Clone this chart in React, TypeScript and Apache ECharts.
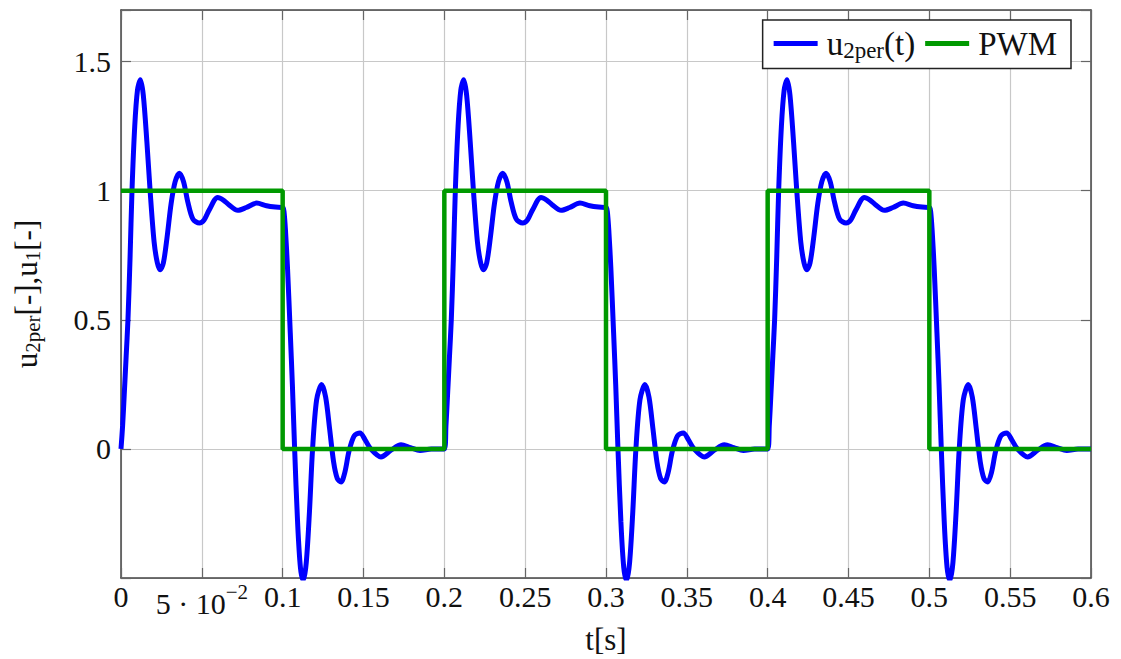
import React, { useEffect, useRef } from "react";
import * as echarts from "echarts";

// One period of the blue response (time offsets in s)
const riseT = [0, 0.001, 0.002, 0.0032, 0.0043, 0.0056, 0.0068, 0.0085, 0.0102, 0.012, 0.0138, 0.016, 0.018, 0.0205, 0.0225, 0.0242, 0.0262, 0.0285, 0.031, 0.0335, 0.0361, 0.0387, 0.0412, 0.0445, 0.0485, 0.0515, 0.0545, 0.0598, 0.0635, 0.0665, 0.0722, 0.0775, 0.0839, 0.09, 0.0955, 0.1];
const riseU = [0, 0.09, 0.21, 0.36, 0.5, 0.74, 1.0, 1.25, 1.39, 1.43, 1.37, 1.19, 1.0, 0.8, 0.72, 0.694, 0.72, 0.82, 0.95, 1.035, 1.068, 1.035, 0.96, 0.89, 0.875, 0.888, 0.925, 0.974, 0.963, 0.947, 0.924, 0.935, 0.952, 0.942, 0.937, 0.935];
const fallT = [0, 0.0008, 0.0018, 0.003, 0.0047, 0.006, 0.0074, 0.0092, 0.011, 0.0128, 0.0146, 0.0166, 0.0185, 0.021, 0.0241, 0.0266, 0.029, 0.0315, 0.0338, 0.0361, 0.0385, 0.041, 0.0442, 0.0478, 0.051, 0.0545, 0.0608, 0.067, 0.0732, 0.079, 0.085, 0.092, 0.1];
const fallU = [0.935, 0.92, 0.84, 0.7, 0.45, 0.25, 0.0, -0.28, -0.46, -0.51, -0.44, -0.24, 0.0, 0.19, 0.249, 0.2, 0.08, -0.05, -0.115, -0.128, -0.09, -0.01, 0.05, 0.062, 0.035, 0.0, -0.031, -0.005, 0.016, 0.005, -0.006, 0.0, 0.0];
const periodStarts = [0, 0.2, 0.4];
const halfPeriod = 0.1;

// PWM signal
const pwmT = [0, 0.1, 0.1, 0.2, 0.2, 0.3, 0.3, 0.4, 0.4, 0.5, 0.5, 0.6];
const pwmU = [1, 1, 0, 0, 1, 1, 0, 0, 1, 1, 0, 0];

const yLabels = [0, 0.5, 1, 1.5];

const FONT = '"Liberation Serif", "Times New Roman", serif';

export default function App() {
  const ref = useRef<HTMLDivElement>(null);
  useEffect(() => {
    if (!ref.current) return;
    const chart = echarts.init(ref.current, undefined, { renderer: "svg" });

    const u2: number[][] = [];
    periodStarts.forEach((p) => {
      riseT.forEach((t, i) => {
        if (t < halfPeriod) u2.push([p + t, riseU[i]]);
      });
      fallT.forEach((t, i) => {
        if (t < halfPeriod) u2.push([p + halfPeriod + t, fallU[i]]);
      });
    });
    u2.push([0.6, fallU[fallU.length - 1]]);
    const pwm = pwmT.map((t, i) => [t, pwmU[i]]);

    const tickStyle = { show: true, inside: true, length: 10, lineStyle: { color: "#666", width: 1.2 } };
    const lineStyle = { show: true, onZero: false, lineStyle: { color: "#444", width: 1.5 } };

    chart.setOption({
      animation: false,
      backgroundColor: "#fff",
      grid: { left: 121, top: 10, right: 30, bottom: 81, containLabel: false, outerBoundsMode: "none" },
      legend: {
        data: ["u2", "PWM"],
        right: 50,
        top: 20,
        orient: "horizontal",
        icon: "rect",
        itemWidth: 44,
        itemHeight: 5,
        itemGap: 10,
        padding: [7, 14, 7, 11],
        borderColor: "#222",
        borderWidth: 1.5,
        borderRadius: 0,
        backgroundColor: "#fff",
        formatter: (name: string) => (name === "u2" ? "{a|u}{b|2per}{a|(t)}" : "{a|PWM}"),
        textStyle: {
          fontFamily: FONT,
          color: "#111",
          padding: [0, 0, 0, 4],
          rich: {
            a: { fontFamily: FONT, fontSize: 33, color: "#111", lineHeight: 36 },
            b: { fontFamily: FONT, fontSize: 23, color: "#111", lineHeight: 26, verticalAlign: "bottom" },
          },
        },
      },
      xAxis: [
        {
          type: "value",
          position: "bottom",
          min: 0,
          max: 0.6,
          interval: 0.05,
          axisLine: lineStyle,
          axisTick: tickStyle,
          splitLine: { show: true, lineStyle: { color: "#c8c8c8", width: 1.2 } },
          axisLabel: {
            margin: 3,
            fontFamily: FONT,
            fontSize: 30,
            color: "#111",
            formatter: (v: number) => {
              if (Math.abs(v - 0.05) < 1e-9) return "{m|5 · 10}{s|−2}";
              return String(Number(v.toFixed(2)));
            },
            rich: {
              m: { fontFamily: FONT, fontSize: 30, color: "#111", lineHeight: 44 },
              s: { fontFamily: FONT, fontSize: 21, color: "#111", lineHeight: 26, verticalAlign: "top" },
            },
          },
          name: "t[s]",
          nameLocation: "middle",
          nameGap: 46,
          nameTextStyle: { fontFamily: FONT, fontSize: 31, color: "#111" },
        },
        {
          type: "value",
          position: "top",
          min: 0,
          max: 0.6,
          interval: 0.05,
          axisLine: lineStyle,
          axisTick: tickStyle,
          axisLabel: { show: false },
          splitLine: { show: false },
        },
      ],
      yAxis: [
        {
          type: "value",
          position: "left",
          min: -0.5,
          max: 1.7,
          interval: 0.5,
          axisLine: lineStyle,
          axisTick: tickStyle,
          splitLine: { show: true, lineStyle: { color: "#c8c8c8", width: 1.2 } },
          axisLabel: {
            margin: 10,
            fontFamily: FONT,
            fontSize: 30,
            color: "#111",
            formatter: (v: number) => {
              const hit = yLabels.find((l) => Math.abs(l - v) < 1e-9);
              return hit === undefined ? "" : String(hit);
            },
          },
          name: "{a|u}{b|2per}{a|[-],u}{b|1}{a|[-]}",
          nameLocation: "middle",
          nameGap: 78,
          nameRotate: 90,
          nameTextStyle: {
            fontFamily: FONT,
            color: "#111",
            rich: {
              a: { fontFamily: FONT, fontSize: 31, color: "#111", lineHeight: 34 },
              b: { fontFamily: FONT, fontSize: 21, color: "#111", lineHeight: 24, verticalAlign: "bottom" },
            },
          },
        },
        {
          type: "value",
          position: "right",
          min: -0.5,
          max: 1.7,
          interval: 0.5,
          axisLine: lineStyle,
          axisTick: tickStyle,
          axisLabel: { show: false },
          splitLine: { show: false },
        },
      ],
      series: [
        {
          name: "u2",
          type: "line",
          xAxisIndex: 0,
          yAxisIndex: 0,
          data: u2,
          smooth: 0.3,
          symbol: "none",
          clip: true,
          color: "#0000ff",
          lineStyle: { color: "#0000ff", width: 5 },
          z: 2,
        },
        {
          name: "PWM",
          type: "line",
          xAxisIndex: 0,
          yAxisIndex: 0,
          data: pwm,
          symbol: "none",
          clip: true,
          color: "#009900",
          lineStyle: { color: "#009900", width: 4.5 },
          z: 3,
        },
      ],
    });
    return () => chart.dispose();
  }, []);
  return <div ref={ref} style={{ position: "absolute", left: 0, top: 0, width: 1121, height: 659 }} />;
}
